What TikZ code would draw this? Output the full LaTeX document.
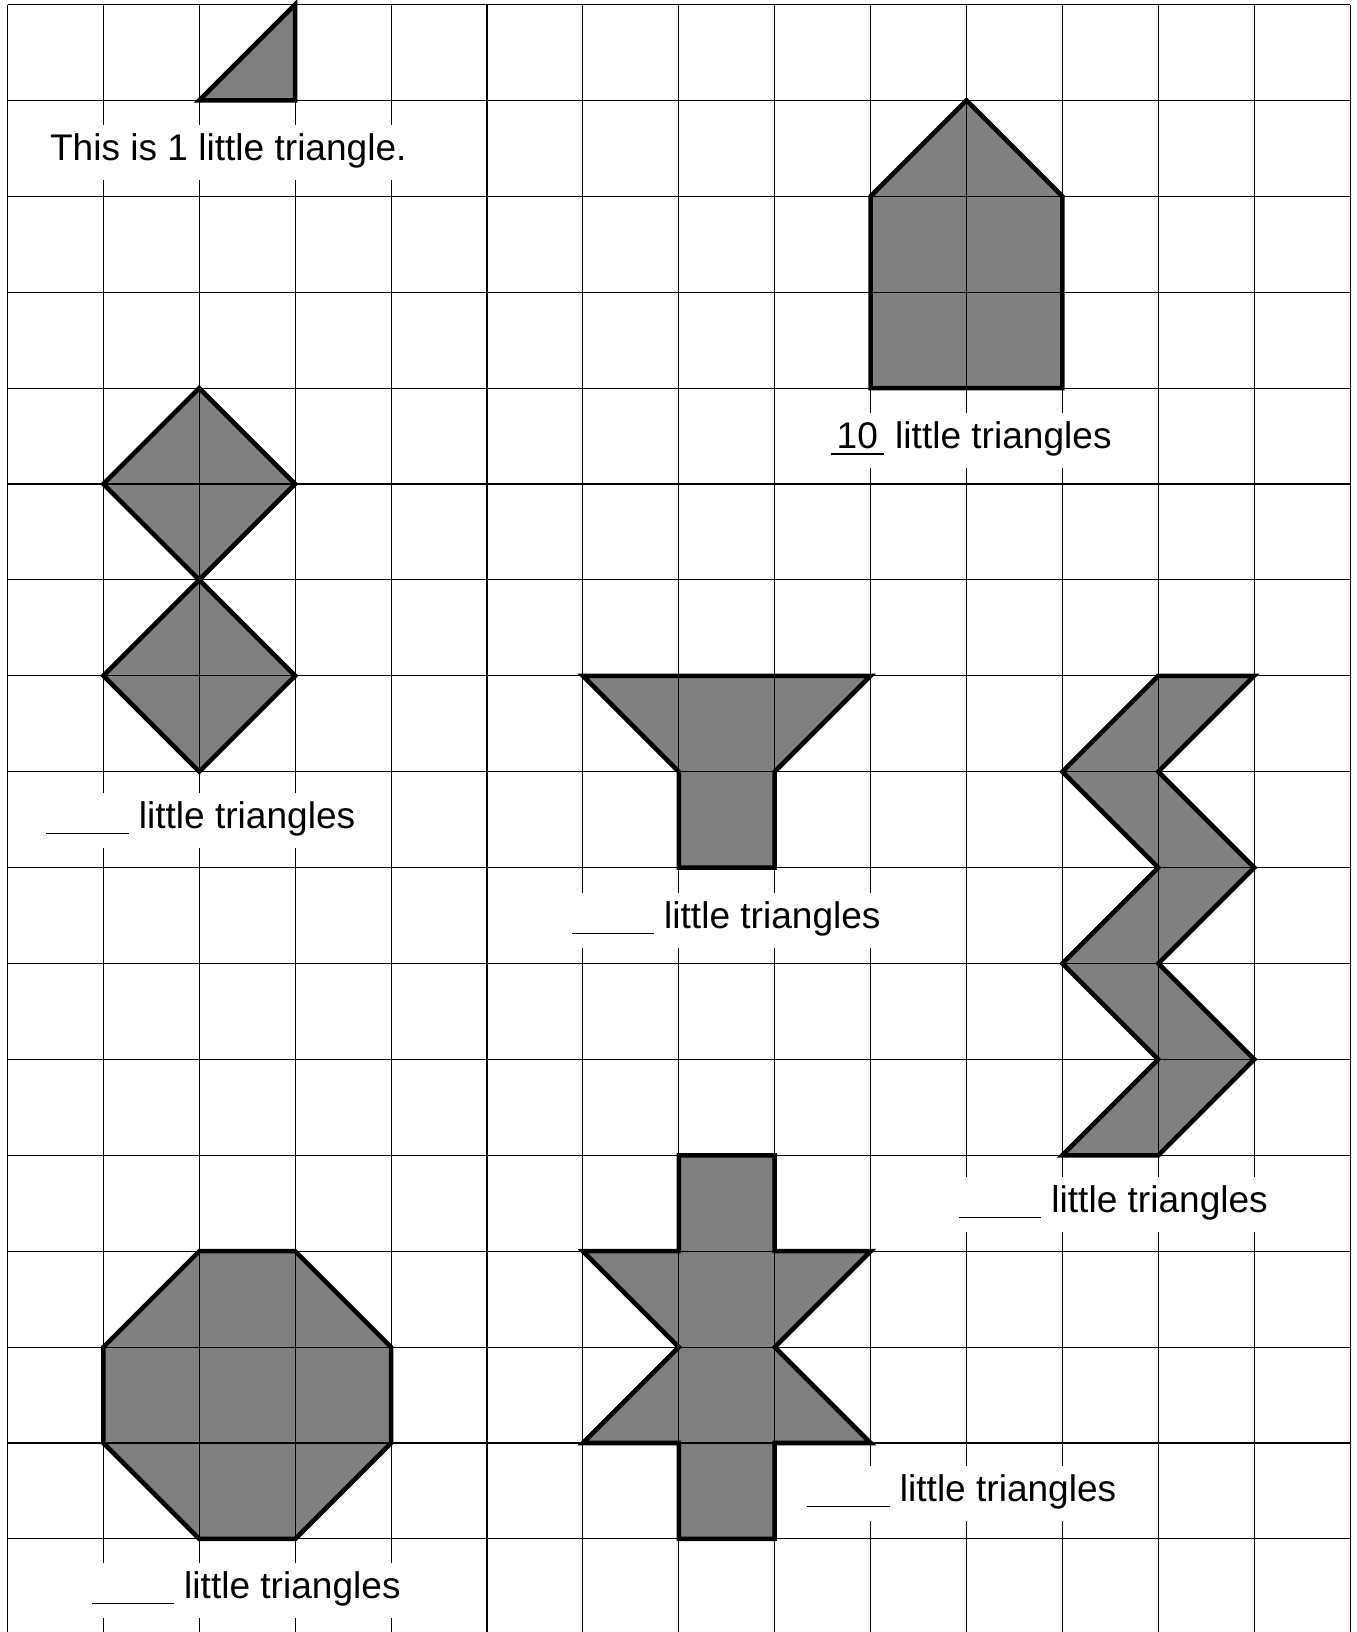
\documentclass[tikz,border=0pt]{standalone}
\usepackage{fontspec}
\setmainfont{Liberation Sans}
\definecolor{shapegray}{HTML}{808080}
\newcommand\blankline{\rule[-0.06cm]{0.86cm}{0.45pt}\hspace{0.105cm}}
\newcommand\shpTri{(2,1) -- (3,1) -- (3,0) -- cycle}
\newcommand\shpHouse{(9,4) -- (9,2) -- (10,1) -- (11,2) -- (11,4) -- cycle}
\newcommand\shpDiamA{(2,4) -- (3,5) -- (2,6) -- (1,5) -- cycle}
\newcommand\shpDiamB{(2,6) -- (3,7) -- (2,8) -- (1,7) -- cycle}
\newcommand\shpFunnel{(6,7) -- (9,7) -- (8,8) -- (8,9) -- (7,9) -- (7,8) -- cycle}
\newcommand\shpZigzag{(12,7) -- (13,7) -- (12,8) -- (13,9) -- (12,10) -- (13,11) -- (12,12) -- (11,12) -- (12,11) -- (11,10) -- (12,9) -- (11,8) -- cycle}
\newcommand\shpOcta{(2,13) -- (3,13) -- (4,14) -- (4,15) -- (3,16) -- (2,16) -- (1,15) -- (1,14) -- cycle}
\newcommand\shpCross{(7,12) -- (8,12) -- (8,13) -- (9,13) -- (8,14) -- (9,15) -- (8,15) -- (8,16) -- (7,16) -- (7,15) -- (6,15) -- (7,14) -- (6,13) -- (7,13) -- cycle}
\begin{document}
\begin{tikzpicture}[x=1cm,y=-1cm,
  shapefill/.style={fill=shapegray},
  gridline/.style={line width=0.32pt,black},
  outline/.style={line width=1.35pt,black,line join=miter},
  lbl/.style={anchor=base west,inner sep=0pt,fill=white,text height=0.372cm,text depth=0.2cm,font=\fontsize{11}{13}\selectfont}]
\useasboundingbox (-0.0782,-0.0469) rectangle (14.062,16.971);
% fills
\fill[shapefill] \shpTri;
\fill[shapefill] \shpHouse;
\fill[shapefill] \shpDiamA;
\fill[shapefill] \shpDiamB;
\fill[shapefill] \shpFunnel;
\fill[shapefill] \shpZigzag;
\fill[shapefill] \shpOcta;
\fill[shapefill] \shpCross;
% grid
\foreach \i in {0,...,14} \draw[gridline] (\i,0) -- (\i,16.971);
\foreach \j in {0,...,16} \draw[gridline] (0,\j) -- (14,\j);
% labels
\node[lbl] (lab0) at (0.437,1.627) {This is 1 little triangle.};
\node[lbl] (lab1) at (8.58,4.633) {\makebox[0.55cm]{10}\llap{\rule[-0.06cm]{0.55cm}{0.45pt}}\hspace{0.12cm}little triangles};
\node[lbl] (lab2) at (0.398,8.593) {\blankline little triangles};
\node[lbl] (lab3) at (5.876,9.636) {\blankline little triangles};
\node[lbl] (lab4) at (9.914,12.595) {\blankline little triangles};
\node[lbl] (lab5) at (8.334,15.612) {\blankline little triangles};
\node[lbl] (lab6) at (0.871,16.623) {\blankline little triangles};
% outlines
\draw[outline] \shpTri;
\draw[outline] \shpHouse;
\draw[outline] \shpDiamA;
\draw[outline] \shpDiamB;
\draw[outline] \shpFunnel;
\draw[outline] \shpZigzag;
\draw[outline] \shpOcta;
\draw[outline] \shpCross;
\end{tikzpicture}
\end{document}
